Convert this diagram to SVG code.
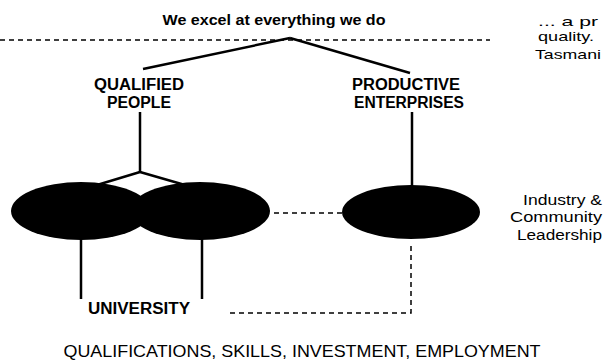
<svg xmlns="http://www.w3.org/2000/svg" width="603" height="360" viewBox="0 0 603 360">
<style>
text{font-family:"Liberation Sans",Arial,sans-serif;fill:#000}
.lbl{font-size:16px;font-weight:bold;text-anchor:middle}
.side{font-size:14px}
.sidet{font-size:13px}
.ln{stroke:#000;stroke-width:2.5;fill:none}
.dash{stroke:#000;stroke-width:1.5;fill:none;stroke-dasharray:5 4}
.blob{fill:#000}
</style>
<rect width="603" height="360" fill="#fff"/>
<g id="connectors">
<path class="dash" d="M0 40 H490"/>
<path class="ln" d="M143 69 L290 38" stroke-width="2"/>
<path class="ln" d="M290 38 L410 73" stroke-width="2"/>
<path class="ln" d="M140 112 V172"/>
<path class="ln" d="M140 172 L97 185 M140 172 L185 185" stroke-width="2"/>
<path class="ln" d="M412 112 V186"/>
<path class="dash" d="M274 213 H342"/>
<path class="ln" d="M81 238 V299 M202 238 V299"/>
<path class="dash" d="M230 313 H411 V242"/>
</g>
<g id="title"><text x="274" y="25" font-size="15" font-weight="bold" text-anchor="middle" textLength="223" lengthAdjust="spacingAndGlyphs">We excel at everything we do</text></g>
<g id="qualified"><text class="lbl" x="139" y="90" textLength="90" lengthAdjust="spacingAndGlyphs">QUALIFIED</text><text class="lbl" x="139" y="108" textLength="64" lengthAdjust="spacingAndGlyphs">PEOPLE</text></g>
<g id="productive"><text class="lbl" x="406" y="90" textLength="108" lengthAdjust="spacingAndGlyphs">PRODUCTIVE</text><text class="lbl" x="409" y="108" textLength="110" lengthAdjust="spacingAndGlyphs">ENTERPRISES</text></g>
<g id="university-left"><ellipse class="blob" cx="81" cy="211" rx="70" ry="29"/></g>
<g id="university-right"><ellipse class="blob" cx="200" cy="211" rx="70" ry="29"/></g>
<g id="industry"><ellipse class="blob" cx="411" cy="212" rx="69" ry="27"/></g>
<g id="university"><text class="lbl" x="139" y="314" font-size="17" textLength="102" lengthAdjust="spacingAndGlyphs">UNIVERSITY</text></g>
<g id="side-top"><text class="sidet" x="538" y="26" textLength="60" lengthAdjust="spacingAndGlyphs">... a pr</text><text class="sidet" x="538" y="41" textLength="56" lengthAdjust="spacingAndGlyphs">quality.</text><text class="sidet" x="535" y="59" textLength="66" lengthAdjust="spacingAndGlyphs">Tasmani</text></g>
<g id="side-mid"><text class="side" x="602" y="205" text-anchor="end" textLength="79" lengthAdjust="spacingAndGlyphs">Industry &amp;</text><text class="side" x="602" y="222" text-anchor="end" textLength="92" lengthAdjust="spacingAndGlyphs">Community</text><text class="side" x="602" y="240" text-anchor="end" textLength="85" lengthAdjust="spacingAndGlyphs">Leadership</text></g>
<g id="bottom"><text x="302" y="357" font-size="17" text-anchor="middle" textLength="477" lengthAdjust="spacingAndGlyphs">QUALIFICATIONS, SKILLS, INVESTMENT, EMPLOYMENT</text></g>
</svg>
